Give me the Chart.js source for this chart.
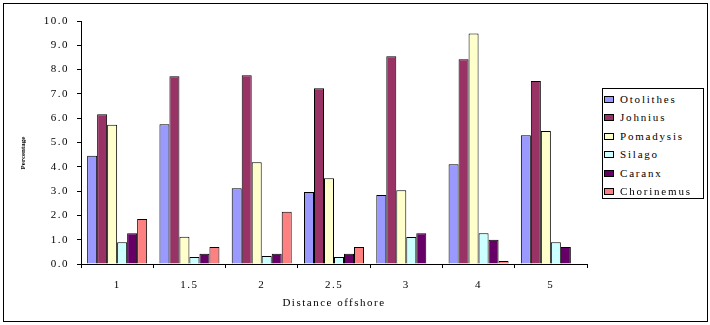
<!DOCTYPE html>
<html>
<head>
<meta charset="utf-8">
<script src="https://cdn.jsdelivr.net/npm/chart.js@4"></script>
<style>
  html, body { margin: 0; padding: 0; background: #fff; }
  #wrap { position: relative; width: 710px; height: 325px; overflow: hidden; }
  #frame { position: absolute; left: 3px; top: 3px; width: 705px; height: 319px; border: 1px solid #000; box-sizing: border-box; pointer-events: none; }
  canvas { position: absolute; left: 0; top: 0; }
  #legend { position: absolute; left: 602px; top: 88px; width: 102px; height: 111px; border: 1px solid #000; box-sizing: border-box; background: #fff; padding-top: 1px;
    font-family: "Liberation Serif", "Times New Roman", serif; font-size: 11px; letter-spacing: 1.8px; color: #000; }
  .row { height: 18.4px; line-height: 18.4px; white-space: nowrap; position: relative; }
  .sw { position: absolute; left: 1px; top: 6px; width: 10px; height: 7px; border: 1px solid #000; box-sizing: border-box; }
  .lbl { position: absolute; left: 17px; top: 0; }
</style>
</head>
<body>
<div id="wrap">
  <canvas id="c" width="710" height="325"></canvas>
  <div id="frame"></div>
  <div id="legend"></div>
</div>
<script>
const categories = ["1", "1.5", "2", "2.5", "3", "4", "5"];
const seriesNames = ["Otolithes", "Johnius", "Pomadysis", "Silago", "Caranx", "Chorinemus"];
const otolithes  = [4.45, 5.75, 3.12, 2.96, 2.84, 4.11, 5.30];
const johnius    = [6.16, 7.73, 7.77, 7.23, 8.55, 8.43, 7.53];
const pomadysis  = [5.73, 1.12, 4.19, 3.53, 3.04, 9.49, 5.47];
const silago     = [0.90, 0.29, 0.33, 0.29, 1.11, 1.27, 0.90];
const caranx     = [1.27, 0.42, 0.42, 0.42, 1.27, 1.00, 0.70];
const chorinemus = [1.85, 0.70, 2.15, 0.70, 0, 0.12, 0];
const seriesColors = ["#9999FF", "#993366", "#FFFFCC", "#CCFFFF", "#660066", "#FF8080"];
const yTicks = [0, 1, 2, 3, 4, 5, 6, 7, 8, 9, 10];
const xTitle = "Distance offshore";
const yTitle = "Percentage";

const seriesValues = [otolithes, johnius, pomadysis, silago, caranx, chorinemus];
const FONT = "'Liberation Serif', 'Times New Roman', serif";

const datasets = seriesNames.map((n, i) => ({
  label: n,
  data: seriesValues[i],
  backgroundColor: seriesColors[i],
  borderColor: "#000",
  borderWidth: 1,
  borderSkipped: "start",
  categoryPercentage: 0.83,
  barPercentage: 1.0
}));

const spacingPlugin = {
  id: "spacing",
  beforeDraw(chart) { chart.ctx.letterSpacing = "1.5px"; },
  afterDraw(chart) {
    const ctx = chart.ctx;
    ctx.save();
    ctx.letterSpacing = "0px";
    ctx.translate(23, 153);
    ctx.rotate(-Math.PI / 2);
    ctx.font = "bold 7px " + FONT;
    ctx.fillStyle = "#000";
    ctx.textAlign = "center";
    ctx.textBaseline = "middle";
    ctx.fillText(yTitle, 0, 0);
    ctx.restore();
  }
};

new Chart(document.getElementById("c"), {
  type: "bar",
  data: { labels: categories, datasets },
  options: {
    responsive: false,
    animation: false,
    layout: { padding: { left: 0, top: 21, right: 123, bottom: 0 } },
    plugins: { legend: { display: false }, tooltip: { enabled: false } },
    scales: {
      y: {
        min: 0, max: 10,
        afterBuildTicks(s) { s.ticks = yTicks.map(v => ({ value: v })); },
        afterFit(s) { s.width = 81; },
        ticks: { color: "#000", font: { family: FONT, size: 11 }, padding: 8,
                 callback: v => Number(v).toFixed(1) },
        grid: { drawOnChartArea: false, drawTicks: true, tickLength: 4, color: "#000", lineWidth: 1 },
        border: { color: "#000", width: 1 }
      },
      x: {
        afterFit(s) { s.height = 61; },
        ticks: { color: "#000", font: { family: FONT, size: 11 }, padding: 11, maxRotation: 0 },
        grid: { offset: true, drawOnChartArea: false, drawTicks: true, tickLength: 4, color: "#000", lineWidth: 1 },
        border: { color: "#000", width: 1 },
        title: { display: true, text: xTitle, color: "#000", font: { family: FONT, size: 11 },
                 padding: { top: 0, bottom: 15 } }
      }
    }
  },
  plugins: [spacingPlugin]
});

const legend = document.getElementById("legend");
seriesNames.forEach((n, i) => {
  const row = document.createElement("div");
  row.className = "row";
  const sw = document.createElement("span");
  sw.className = "sw";
  sw.style.background = seriesColors[i];
  const lbl = document.createElement("span");
  lbl.className = "lbl";
  lbl.textContent = n;
  row.appendChild(sw);
  row.appendChild(lbl);
  legend.appendChild(row);
});
</script>
</body>
</html>
